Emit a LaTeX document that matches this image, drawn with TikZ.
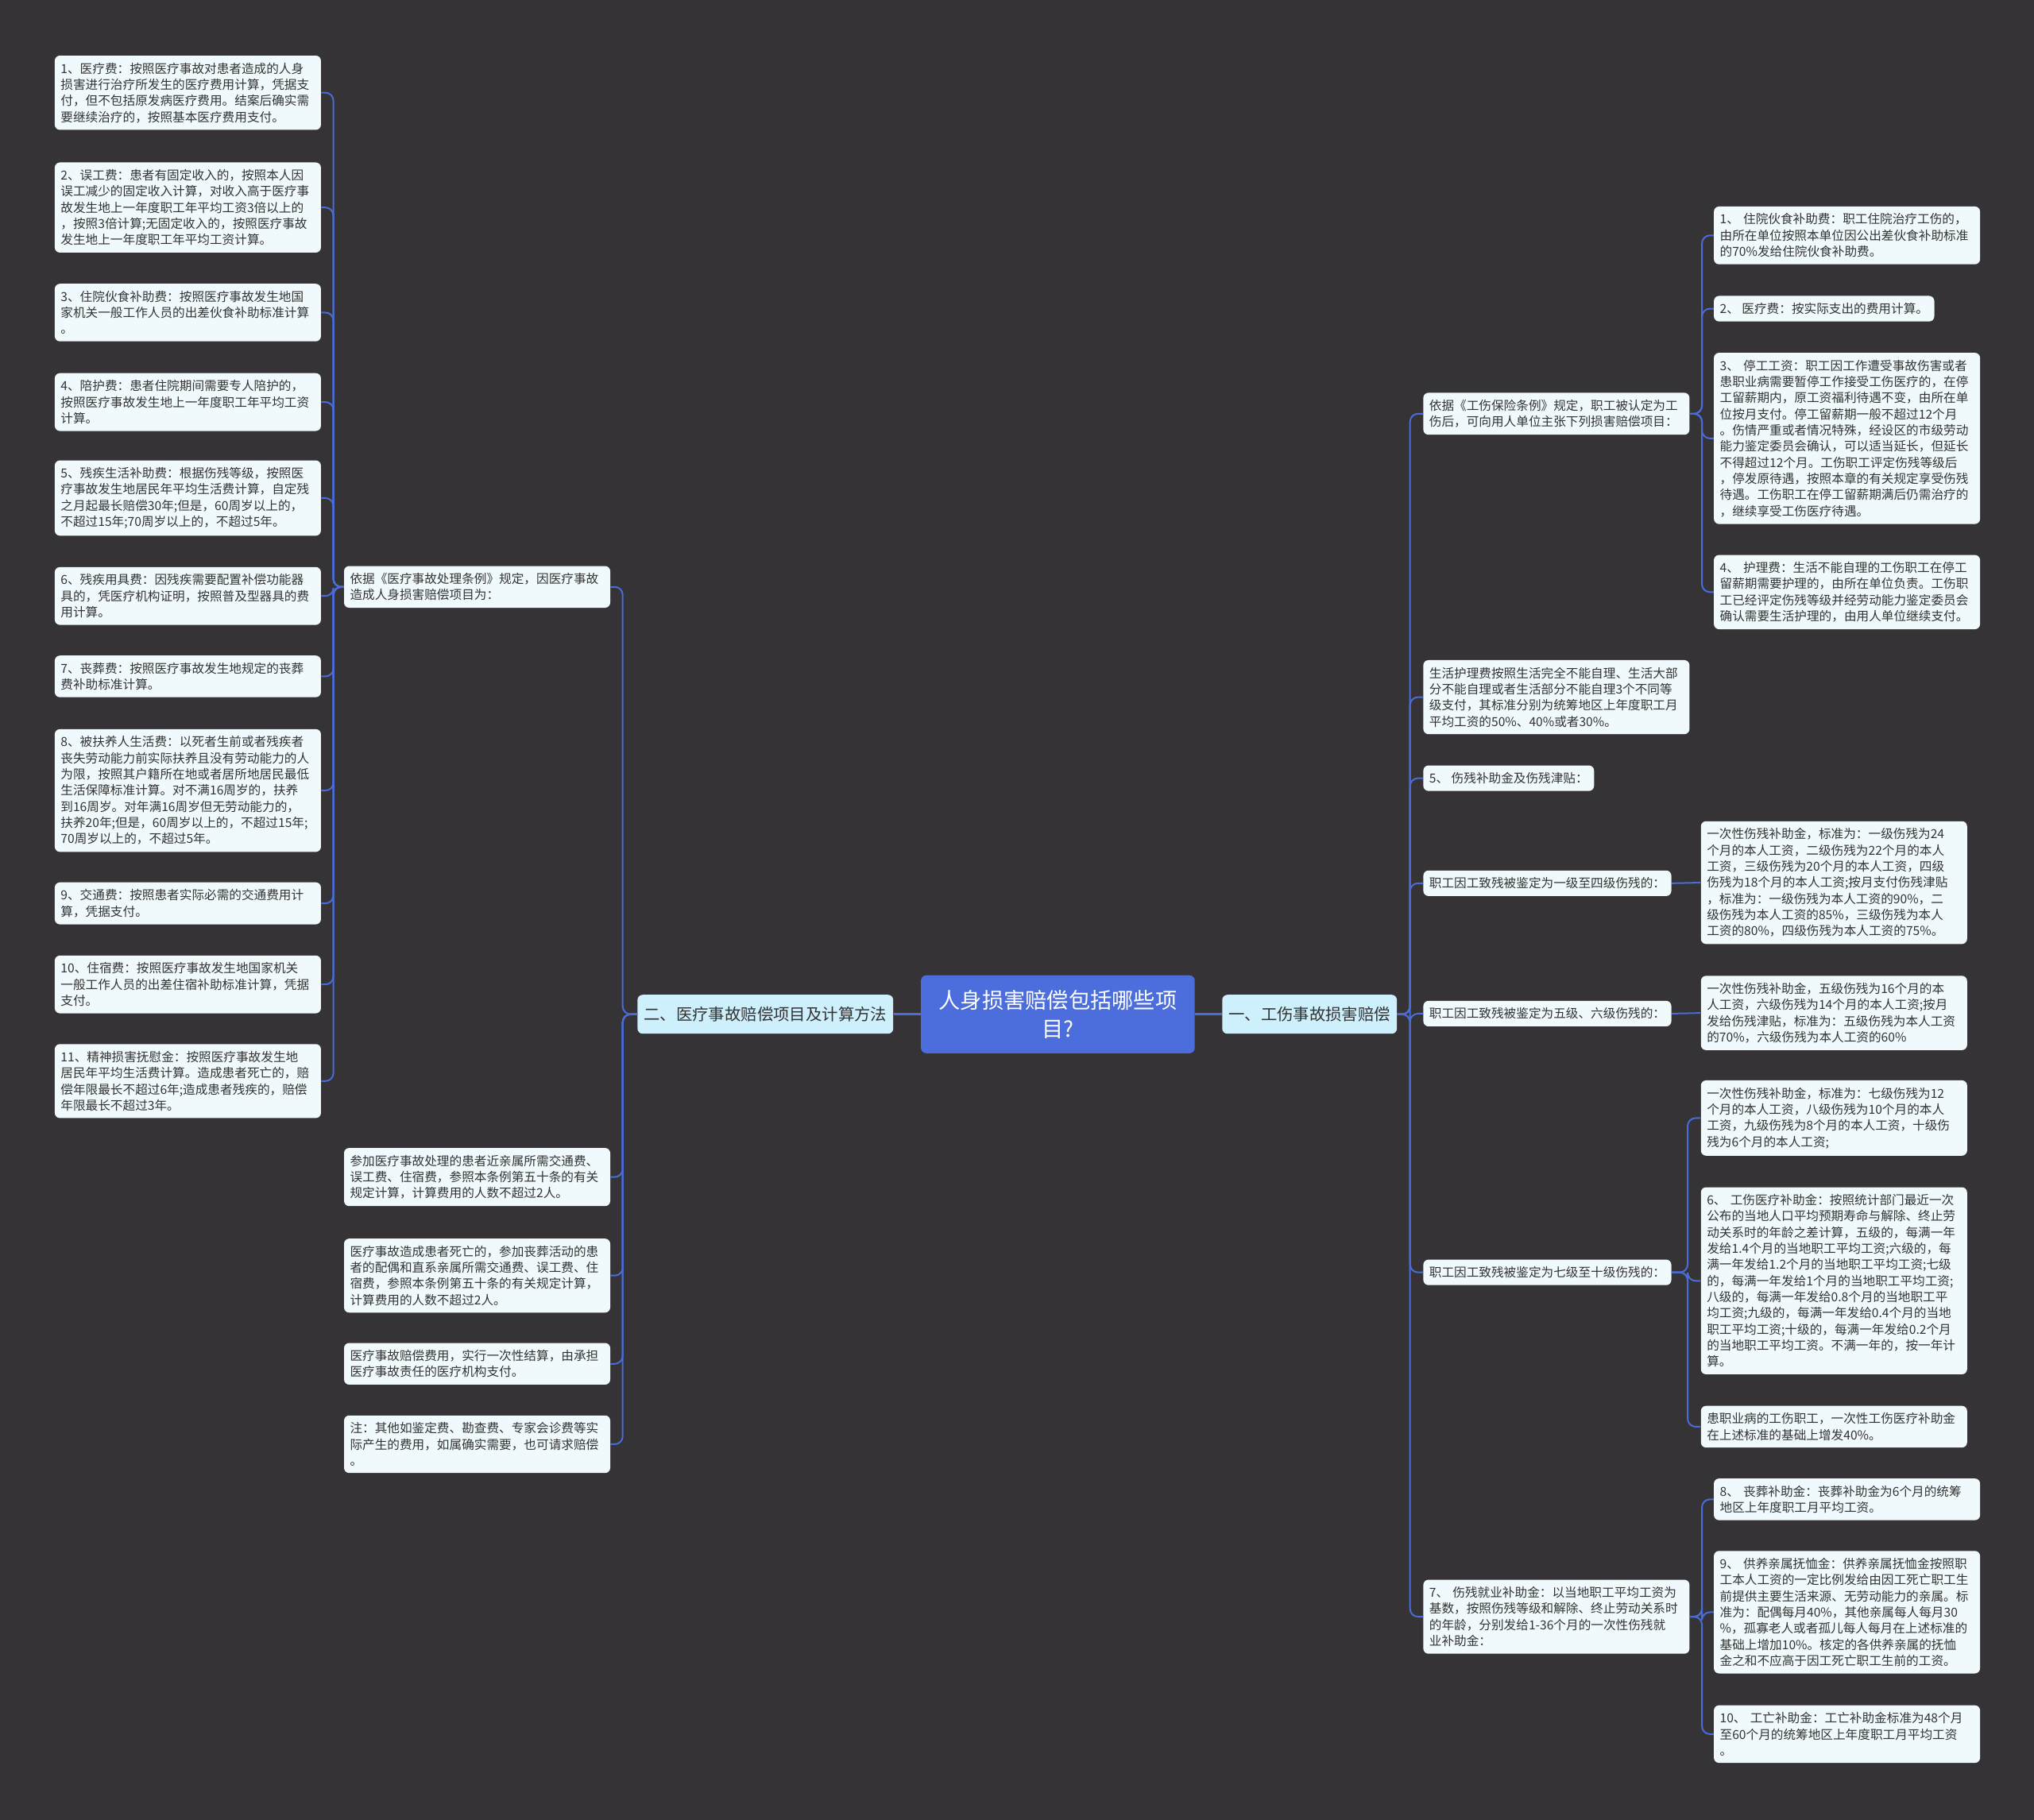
\documentclass[tikz,border=0pt]{standalone}
\usepackage{fontspec}
\setmainfont{Noto Sans CJK SC}
\usepackage{tikz}
\usetikzlibrary{calc}

\definecolor{bgcol}{RGB}{53,51,53}
\definecolor{leafbg}{RGB}{240,250,252}
\definecolor{branchbg}{RGB}{206,239,252}
\definecolor{rootbg}{RGB}{76,110,220}
\definecolor{linkblue}{RGB}{74,108,214}
\definecolor{inktxt}{RGB}{51,51,51}

\newcommand\leaffont{\fontsize{8.9}{11.57}\selectfont}
\newcommand\branchfont{\fontsize{11.6}{14}\selectfont}
\newcommand\rootfont{\fontsize{15.5}{20.4}\selectfont}

\begin{document}
\begin{tikzpicture}[
        x=0.32653mm, y=-0.32653mm,
        box/.style={fill=leafbg, text=inktxt, rounded corners=1.3mm, inner xsep=1.5mm, inner ysep=5pt, anchor=west, font=\leaffont},
        leaf/.style={box, text width=64mm, align=left},
        tag/.style={box, align=left},
        branch/.style={fill=branchbg, text=inktxt, rounded corners=1.3mm, inner xsep=1.6mm, minimum height=9.8mm, font=\branchfont},
        root/.style={fill=rootbg, text=white, rounded corners=1.3mm, text width=60mm, align=center, minimum width=68.9mm, minimum height=19.6mm, inner sep=0pt, font=\rootfont},
        conn/.style={draw=linkblue, line width=0.4mm, rounded corners=2mm},
        trunk/.style={draw=linkblue, line width=0.6mm}
    ]
    \useasboundingbox (0,0) rectangle (1568,1403);
    \fill[bgcol] (0,0) rectangle (1568,1403);

    % bus lines
    \coordinate (lbus) at (257,0);
    \coordinate (mbus) at (480,0);
    \coordinate (rbus) at (1087,0);
    \coordinate (rabus) at (1312,0);
    \coordinate (rfbus) at (1301,0);

    % centre
    \node[root] (top) at (815.5,782) {人身损害赔偿包括哪些项\\目?};
    \node[branch] (med) at (590,782) {二、医疗事故赔偿项目及计算方法};
    \node[branch] (work) at (1009.5,782) {一、工伤事故损害赔偿};
    \draw[trunk] (top.west) -- (med.east);
    \draw[trunk] (top.east) -- (work.west);

    % left side
    \node[leaf] (m0) at (265,452.5) {依据《医疗事故处理条例》规定，因医疗事故\\造成人身损害赔偿项目为：};
    \node[leaf] (m1) at (265,907.5) {参加医疗事故处理的患者近亲属所需交通费、\\误工费、住宿费，参照本条例第五十条的有关\\规定计算，计算费用的人数不超过2人。};
    \node[leaf] (m2) at (265,983.5) {医疗事故造成患者死亡的，参加丧葬活动的患\\者的配偶和直系亲属所需交通费、误工费、住\\宿费，参照本条例第五十条的有关规定计算，\\计算费用的人数不超过2人。};
    \node[leaf] (m3) at (265,1051.5) {医疗事故赔偿费用，实行一次性结算，由承担\\医疗事故责任的医疗机构支付。};
    \node[leaf] (m4) at (265,1113.5) {注：其他如鉴定费、勘查费、专家会诊费等实\\际产生的费用，如属确实需要，也可请求赔偿\\。};

    \node[leaf] (l1) at (42,71.5) {1、医疗费：按照医疗事故对患者造成的人身\\损害进行治疗所发生的医疗费用计算，凭据支\\付，但不包括原发病医疗费用。结案后确实需\\要继续治疗的，按照基本医疗费用支付。};
    \node[leaf] (l2) at (42,160) {2、误工费：患者有固定收入的，按照本人因\\误工减少的固定收入计算，对收入高于医疗事\\故发生地上一年度职工年平均工资3倍以上的\\，按照3倍计算;无固定收入的，按照医疗事故\\发生地上一年度职工年平均工资计算。};
    \node[leaf] (l3) at (42,241) {3、住院伙食补助费：按照医疗事故发生地国\\家机关一般工作人员的出差伙食补助标准计算\\。};
    \node[leaf] (l4) at (42,310) {4、陪护费：患者住院期间需要专人陪护的，\\按照医疗事故发生地上一年度职工年平均工资\\计算。};
    \node[leaf] (l5) at (42,384) {5、残疾生活补助费：根据伤残等级，按照医\\疗事故发生地居民年平均生活费计算，自定残\\之月起最长赔偿30年;但是，60周岁以上的，\\不超过15年;70周岁以上的，不超过5年。};
    \node[leaf] (l6) at (42,459.5) {6、残疾用具费：因残疾需要配置补偿功能器\\具的，凭医疗机构证明，按照普及型器具的费\\用计算。};
    \node[leaf] (l7) at (42,521.5) {7、丧葬费：按照医疗事故发生地规定的丧葬\\费补助标准计算。};
    \node[leaf] (l8) at (42,609.5) {8、被扶养人生活费：以死者生前或者残疾者\\丧失劳动能力前实际扶养且没有劳动能力的人\\为限，按照其户籍所在地或者居所地居民最低\\生活保障标准计算。对不满16周岁的，扶养\\到16周岁。对年满16周岁但无劳动能力的，\\扶养20年;但是，60周岁以上的，不超过15年;\\70周岁以上的，不超过5年。};
    \node[leaf] (l9) at (42,696.5) {9、交通费：按照患者实际必需的交通费用计\\算，凭据支付。};
    \node[leaf] (l10) at (42,759) {10、住宿费：按照医疗事故发生地国家机关\\一般工作人员的出差住宿补助标准计算，凭据\\支付。};
    \node[leaf] (l11) at (42,833.5) {11、精神损害抚慰金：按照医疗事故发生地\\居民年平均生活费计算。造成患者死亡的，赔\\偿年限最长不超过6年;造成患者残疾的，赔偿\\年限最长不超过3年。};

    \foreach \c in {m0,m1,m2,m3,m4}
        \draw[conn] (med.west) -- (med.west -| mbus) |- (\c.east);
    \foreach \c in {l1,l2,l3,l4,l5,l6,l7,l8,l9,l10,l11}
        \draw[conn] (m0.west) -- (m0.west -| lbus) |- (\c.east);

    % right side
    \node[leaf] (w1) at (1097,319) {依据《工伤保险条例》规定，职工被认定为工\\伤后，可向用人单位主张下列损害赔偿项目：};
    \node[leaf] (w2) at (1097,537.5) {生活护理费按照生活完全不能自理、生活大部\\分不能自理或者生活部分不能自理3个不同等\\级支付，其标准分别为统筹地区上年度职工月\\平均工资的50\%、40\%或者30\%。};
    \node[tag] (w3) at (1097,600) {5、~伤残补助金及伤残津贴：};
    \node[tag] (w4) at (1097,681) {职工因工致残被鉴定为一级至四级伤残的：};
    \node[tag] (w5) at (1097,781.5) {职工因工致残被鉴定为五级、六级伤残的：};
    \node[tag] (w6) at (1097,981) {职工因工致残被鉴定为七级至十级伤残的：};
    \node[leaf] (w7) at (1097,1246.5) {7、~伤残就业补助金：以当地职工平均工资为\\基数，按照伤残等级和解除、终止劳动关系时\\的年龄，分别发给1-36个月的一次性伤残就\\业补助金：};

    \foreach \c in {w1,w2,w3,w4,w5,w6,w7}
        \draw[conn] (work.east) -- (work.east -| rbus) |- (\c.west);

    \node[leaf] (a1) at (1321,181.5) {1、~住院伙食补助费：职工住院治疗工伤的，\\由所在单位按照本单位因公出差伙食补助标准\\的70\%发给住院伙食补助费。};
    \node[tag] (a2) at (1321,238) {2、~医疗费：按实际支出的费用计算。};
    \node[leaf] (a3) at (1321,338) {3、~停工工资：职工因工作遭受事故伤害或者\\患职业病需要暂停工作接受工伤医疗的，在停\\工留薪期内，原工资福利待遇不变，由所在单\\位按月支付。停工留薪期一般不超过12个月\\。伤情严重或者情况特殊，经设区的市级劳动\\能力鉴定委员会确认，可以适当延长，但延长\\不得超过12个月。工伤职工评定伤残等级后\\，停发原待遇，按照本章的有关规定享受伤残\\待遇。工伤职工在停工留薪期满后仍需治疗的\\，继续享受工伤医疗待遇。};
    \node[leaf] (a4) at (1321,456.5) {4、~护理费：生活不能自理的工伤职工在停工\\留薪期需要护理的，由所在单位负责。工伤职\\工已经评定伤残等级并经劳动能力鉴定委员会\\确认需要生活护理的，由用人单位继续支付。};
    \foreach \c in {a1,a2,a3,a4}
        \draw[conn] (w1.east) -- (w1.east -| rabus) |- (\c.west);

    \node[leaf] (d1) at (1311,680.5) {一次性伤残补助金，标准为：一级伤残为24\\个月的本人工资，二级伤残为22个月的本人\\工资，三级伤残为20个月的本人工资，四级\\伤残为18个月的本人工资;按月支付伤残津贴\\，标准为：一级伤残为本人工资的90\%，二\\级伤残为本人工资的85\%，三级伤残为本人\\工资的80\%，四级伤残为本人工资的75\%。};
    \draw[conn] (w4.east) -- (d1.west);

    \node[leaf] (e1) at (1311,781) {一次性伤残补助金，五级伤残为16个月的本\\人工资，六级伤残为14个月的本人工资;按月\\发给伤残津贴，标准为：五级伤残为本人工资\\的70\%，六级伤残为本人工资的60\%};
    \draw[conn] (w5.east) -- (e1.west);

    \node[leaf] (f1) at (1311,862) {一次性伤残补助金，标准为：七级伤残为12\\个月的本人工资，八级伤残为10个月的本人\\工资，九级伤残为8个月的本人工资，十级伤\\残为6个月的本人工资;};
    \node[leaf] (f2) at (1311,987.5) {6、~工伤医疗补助金：按照统计部门最近一次\\公布的当地人口平均预期寿命与解除、终止劳\\动关系时的年龄之差计算，五级的，每满一年\\发给1.4个月的当地职工平均工资;六级的，每\\满一年发给1.2个月的当地职工平均工资;七级\\的，每满一年发给1个月的当地职工平均工资;\\八级的，每满一年发给0.8个月的当地职工平\\均工资;九级的，每满一年发给0.4个月的当地\\职工平均工资;十级的，每满一年发给0.2个月\\的当地职工平均工资。不满一年的，按一年计\\算。};
    \node[leaf] (f3) at (1311,1100) {患职业病的工伤职工，一次性工伤医疗补助金\\在上述标准的基础上增发40\%。};
    \foreach \c in {f1,f2,f3}
        \draw[conn] (w6.east) -- (w6.east -| rfbus) |- (\c.west);

    \node[leaf] (g1) at (1321,1156) {8、~丧葬补助金：丧葬补助金为6个月的统筹\\地区上年度职工月平均工资。};
    \node[leaf] (g2) at (1321,1243) {9、~供养亲属抚恤金：供养亲属抚恤金按照职\\工本人工资的一定比例发给由因工死亡职工生\\前提供主要生活来源、无劳动能力的亲属。标\\准为：配偶每月40\%，其他亲属每人每月30\\\%，孤寡老人或者孤儿每人每月在上述标准的\\基础上增加10\%。核定的各供养亲属的抚恤\\金之和不应高于因工死亡职工生前的工资。};
    \node[leaf] (g3) at (1321,1337) {10、~工亡补助金：工亡补助金标准为48个月\\至60个月的统筹地区上年度职工月平均工资\\。};
    \foreach \c in {g1,g2,g3}
        \draw[conn] (w7.east) -- (w7.east -| rabus) |- (\c.west);
\end{tikzpicture}
\end{document}
